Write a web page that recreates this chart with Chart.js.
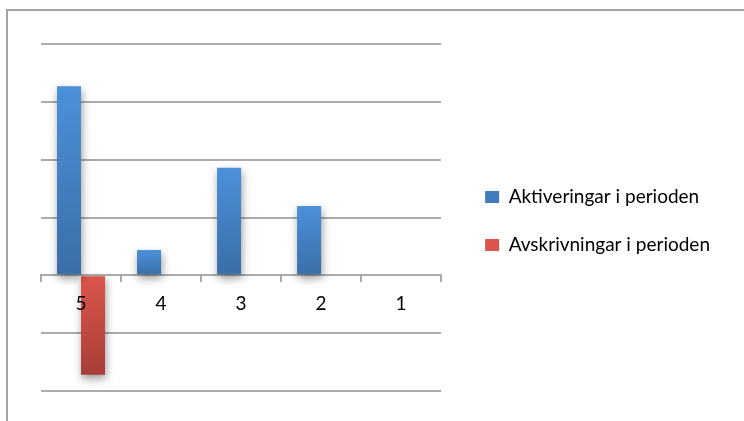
<!DOCTYPE html>
<html>
<head>
<meta charset="utf-8">
<script src="https://cdn.jsdelivr.net/npm/chart.js@4/dist/chart.umd.min.js"></script>
<style>
  html, body { margin: 0; padding: 0; background: #fff; overflow: hidden; }
  #wrap { position: relative; width: 744px; height: 421px; }
  #frame { position: absolute; left: 6px; top: 9px; width: 800px; height: 500px; border: 2px solid #a3a3a3; }
  canvas { position: absolute; left: 0; top: 0; }
</style>
</head>
<body>
<div id="wrap">
  <div id="frame"></div>
  <canvas id="myChart" width="744" height="421"></canvas>
</div>
<script>
'use strict';

// chart data
let categories = ['5', '4', '3', '2', '1'];
let seriesNames = ['Aktiveringar i perioden', 'Avskrivningar i perioden'];
let aktiveringar = [327, 44, 186, 120, 0];
let avskrivningar = [-172, 0, 0, 0, 0];
let yMin = -200;
let yMax = 400;
let yStep = 100;

let gridColor = '#ababab';
let labelFont = { family: 'Lato', size: 19 };

// vertical gradient per bar, lighter at the top edge
function barGradient(light, dark) {
  return function (context) {
    let chart = context.chart;
    let scale = chart.scales.y;
    let value = context.parsed ? context.parsed.y : 0;
    if (!scale || !value || !chart.chartArea) {
      return light;
    }
    let top = scale.getPixelForValue(Math.max(value, 0));
    let bottom = scale.getPixelForValue(Math.min(value, 0));
    if (!isFinite(top) || !isFinite(bottom)) {
      return light;
    }
    let g = chart.ctx.createLinearGradient(0, top, 0, bottom);
    g.addColorStop(0, light);
    g.addColorStop(1, dark);
    return g;
  };
}

// soft drop shadow under the bars
let barShadow = {
  id: 'barShadow',
  beforeDatasetsDraw(chart) {
    let ctx = chart.ctx;
    ctx.save();
    ctx.shadowColor = 'rgba(0, 0, 0, 0.4)';
    ctx.shadowBlur = 8;
    ctx.shadowOffsetX = 1;
    ctx.shadowOffsetY = 4;
  },
  afterDatasetsDraw(chart) {
    chart.ctx.restore();
  }
};

let ctx = document.getElementById('myChart').getContext('2d');
let myChart = new Chart(ctx, {
  type: 'bar',
  data: {
    labels: categories,
    datasets: [{
      label: seriesNames[0],
      data: aktiveringar,
      backgroundColor: barGradient('#4b91d9', '#3a6ea8'),
      categoryPercentage: 0.6,
      barPercentage: 1.0
    }, {
      label: seriesNames[1],
      data: avskrivningar,
      backgroundColor: barGradient('#dc554b', '#a83f38'),
      categoryPercentage: 0.6,
      barPercentage: 1.0
    }]
  },
  options: {
    responsive: false,
    animation: false,
    layout: {
      padding: { left: 41, top: 44, bottom: 30, right: 24 }
    },
    scales: {
      x: {
        // axis sits on the zero line, its labels go over the bars
        position: { y: 0 },
        afterFit: function (scale) { scale.height = 0; },
        grid: {
          offset: true,
          drawOnChartArea: false,
          drawTicks: true,
          tickLength: 6,
          color: gridColor,
          lineWidth: 2
        },
        border: { display: true, color: gridColor, width: 2 },
        ticks: { color: '#000', font: labelFont, padding: 11, maxRotation: 0, z: 1 }
      },
      y: {
        position: 'right',
        min: yMin,
        max: yMax,
        afterFit: function (scale) { scale.width = 15; },
        ticks: { display: false, stepSize: yStep },
        grid: { color: gridColor, lineWidth: 2, drawTicks: false },
        border: { display: false }
      }
    },
    plugins: {
      tooltip: { enabled: false },
      legend: {
        position: 'right',
        maxWidth: 400,
        title: { display: true, text: '', padding: { top: 7, bottom: 0 }, font: { size: 0 } },
        labels: {
          color: '#000',
          font: labelFont,
          boxWidth: 14,
          boxHeight: 12,
          padding: 29
        }
      }
    }
  },
  plugins: [barShadow]
});
</script>
</body>
</html>
